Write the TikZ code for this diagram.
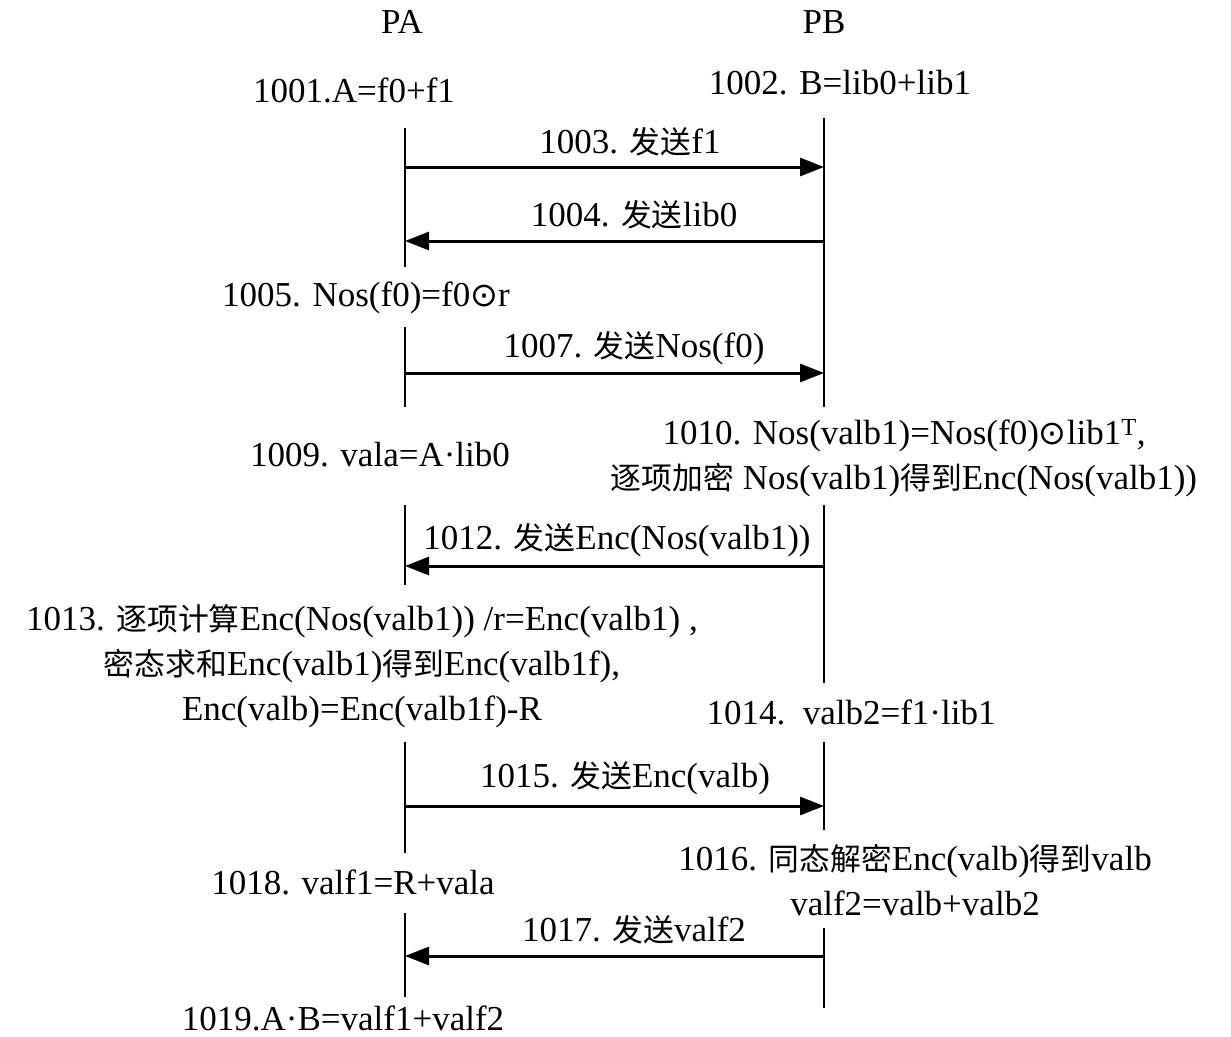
\documentclass[tikz,border=0pt]{standalone}
\usepackage{fontspec}
\setmainfont{Liberation Serif}
\newfontfamily\cjk{Noto Sans CJK SC}[Scale=0.88]
\newfontfamily\symf{DejaVu Sans}[Scale=0.95]
\newcommand{\odotsym}{{\symf ⊙}}
\usetikzlibrary{arrows.meta}
\begin{document}
\begin{tikzpicture}[x=1pt,y=-1pt,
 lbl/.style={inner sep=0pt, font=\fontsize{35}{45}\selectfont, align=center},
 life/.style={line width=1.6pt},
 msg/.style={line width=3pt, -{Triangle[length=24pt,width=18pt]}}]
\useasboundingbox (0,0) rectangle (1231,1036);

% headers
\node[lbl] (pa) at (402,22) {PA};
\node[lbl] (pb) at (824,22) {PB};

% lifeline segment ends
\coordinate (pa1s) at (405,128); \coordinate (pa1e) at (405,267);
\coordinate (pa2s) at (405,327); \coordinate (pa2e) at (405,407);
\coordinate (pa3s) at (405,505); \coordinate (pa3e) at (405,585);
\coordinate (pa4s) at (405,742); \coordinate (pa4e) at (405,853);
\coordinate (pa5s) at (405,913); \coordinate (pa5e) at (405,997);
\coordinate (pb1s) at (824,118); \coordinate (pb1e) at (824,407);
\coordinate (pb2s) at (824,505); \coordinate (pb2e) at (824,683);
\coordinate (pb3s) at (824,742); \coordinate (pb3e) at (824,830);
\coordinate (pb4s) at (824,928); \coordinate (pb4e) at (824,1008);
\foreach \s in {pa1,pa2,pa3,pa4,pa5,pb1,pb2,pb3,pb4}
  \draw[life] (\s s) -- (\s e);

% message anchors
\coordinate (m1a) at (405,167); \coordinate (m1b) at (824,167);
\coordinate (m2a) at (405,241); \coordinate (m2b) at (824,241);
\coordinate (m3a) at (405,373); \coordinate (m3b) at (824,373);
\coordinate (m4a) at (405,566); \coordinate (m4b) at (824,566);
\coordinate (m5a) at (405,806); \coordinate (m5b) at (824,806);
\coordinate (m6a) at (405,956); \coordinate (m6b) at (824,956);

\draw[msg] (m1a) -- (m1b);
\draw[msg] (m2b) -- (m2a);
\draw[msg] (m3a) -- (m3b);
\draw[msg] (m4b) -- (m4a);
\draw[msg] (m5a) -- (m5b);
\draw[msg] (m6b) -- (m6a);

% labels
\node[lbl] (s1001) at (354,90) {1001.A=f0+f1};
\node[lbl] (s1002) at (840,83) {1002. B=lib0+lib1};
\node[lbl] (s1003) at (630,142) {1003. {\cjk 发送}f1};
\node[lbl] (s1004) at (634,215) {1004. {\cjk 发送}lib0};
\node[lbl] (s1005) at (366,298) {1005. Nos(f0)=f0\odotsym r};
\node[lbl] (s1007) at (634,348) {1007. {\cjk 发送}Nos(f0)};
\node[lbl] (s1009) at (380,455) {1009. vala=A·lib0};
\node[lbl] (s1010) at (904,458) {1010. Nos(valb1)=Nos(f0)\odotsym lib1\textsuperscript{T},\\{\cjk 逐项加密} Nos(valb1){\cjk 得到}Enc(Nos(valb1))};
\node[lbl] (s1012) at (617,540) {1012. {\cjk 发送}Enc(Nos(valb1))};
\node[lbl] (s1013) at (362,666) {1013. {\cjk 逐项计算}Enc(Nos(valb1)) /r=Enc(valb1) ,\\{\cjk 密态求和}Enc(valb1){\cjk 得到}Enc(valb1f),\\Enc(valb)=Enc(valb1f)-R};
\node[lbl] (s1014) at (851,712) {1014.\ \ valb2=f1·lib1};
\node[lbl] (s1015) at (625,778) {1015. {\cjk 发送}Enc(valb)};
\node[lbl] (s1016) at (915,880) {1016. {\cjk 同态解密}Enc(valb){\cjk 得到}valb\\valf2=valb+valb2};
\node[lbl] (s1018) at (353,882) {1018. valf1=R+vala};
\node[lbl] (s1017) at (634,930) {1017. {\cjk 发送}valf2};
\node[lbl] (s1019) at (343,1018) {1019.A·B=valf1+valf2};
\end{tikzpicture}
\end{document}
